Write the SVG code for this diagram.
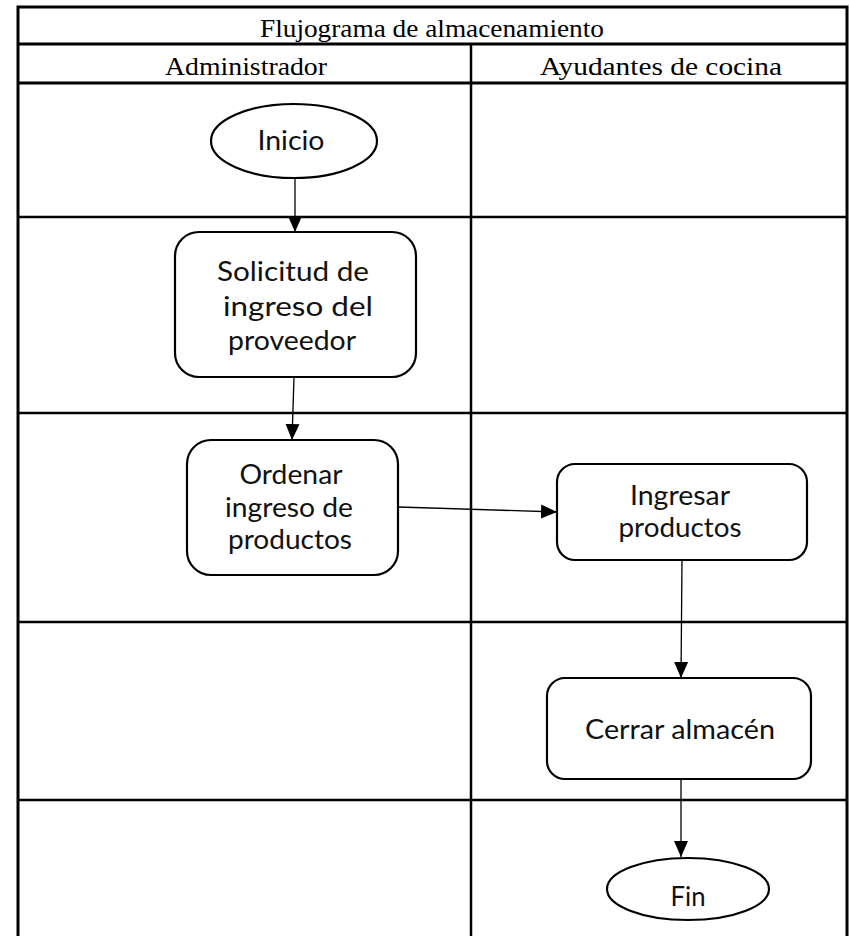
<svg xmlns="http://www.w3.org/2000/svg" width="850" height="936" viewBox="0 0 850 936">
  <style>
    .grid { stroke: #000; stroke-width: 2.5; fill: none; }
    .frame { stroke: #000; stroke-width: 3; fill: none; }
    .hdr { font-family: "Liberation Serif", "Times New Roman", serif; font-size: 25px; fill: #000; text-anchor: middle; }
    .shape { fill: #fff; stroke: #000; stroke-width: 2.2; }
    .lbl { font-family: Lato, "Open Sans", sans-serif; font-size: 27px; fill: #111; text-anchor: middle; }
    .edge { stroke: #000; stroke-width: 1.3; fill: none; marker-end: url(#tip); }
  </style>
  <defs>
    <marker id="tip" markerUnits="userSpaceOnUse" markerWidth="16" markerHeight="16" viewBox="0 0 16 16" refX="16" refY="8" orient="auto">
      <path d="M0,1 L16,8 L0,15 Z" fill="#000"/>
    </marker>
  </defs>

  <rect width="850" height="936" fill="#fff"/>

  <!-- swimlane table -->
  <g id="lanes">
    <path class="frame" d="M18,936 V7 H847 V936"/>
    <line class="frame" x1="18" y1="44" x2="847" y2="44"/>
    <line class="frame" x1="18" y1="83" x2="847" y2="83"/>
    <line class="grid" x1="471" y1="44" x2="471" y2="936"/>
    <line class="grid" x1="18" y1="217" x2="847" y2="217"/>
    <line class="grid" x1="18" y1="413" x2="847" y2="413"/>
    <line class="grid" x1="18" y1="622" x2="847" y2="622"/>
    <line class="grid" x1="18" y1="800" x2="847" y2="800"/>
    <text class="hdr" x="432" y="37" textLength="344" lengthAdjust="spacingAndGlyphs">Flujograma de almacenamiento</text>
    <text class="hdr" x="246" y="75" textLength="162" lengthAdjust="spacingAndGlyphs">Administrador</text>
    <text class="hdr" x="661" y="75" textLength="242" lengthAdjust="spacingAndGlyphs">Ayudantes de cocina</text>
  </g>

  <!-- connectors -->
  <g id="connectors">
    <line class="edge" x1="295" y1="178" x2="295" y2="232"/>
    <line class="edge" x1="294" y1="377" x2="292" y2="440"/>
    <line class="edge" x1="398" y1="507" x2="557" y2="512"/>
    <line class="edge" x1="682" y1="560" x2="681" y2="678"/>
    <line class="edge" x1="681" y1="779" x2="681" y2="857"/>
  </g>

  <g id="inicio">
    <ellipse class="shape" cx="294" cy="141" rx="83" ry="37"/>
    <text class="lbl" x="291" y="150" textLength="67" lengthAdjust="spacingAndGlyphs">Inicio</text>
  </g>

  <g id="solicitud">
    <rect class="shape" x="175" y="232" width="241" height="145" rx="24"/>
    <text class="lbl" x="293" y="281" textLength="152" lengthAdjust="spacingAndGlyphs">Solicitud de</text>
    <text class="lbl" x="298" y="316" textLength="150" lengthAdjust="spacingAndGlyphs">ingreso del</text>
    <text class="lbl" x="292" y="350" textLength="128" lengthAdjust="spacingAndGlyphs">proveedor</text>
  </g>

  <g id="ordenar">
    <rect class="shape" x="187" y="440" width="211" height="135" rx="24"/>
    <text class="lbl" x="291" y="484" textLength="103" lengthAdjust="spacingAndGlyphs">Ordenar</text>
    <text class="lbl" x="289" y="517" textLength="128" lengthAdjust="spacingAndGlyphs">ingreso de</text>
    <text class="lbl" x="290" y="549" textLength="124" lengthAdjust="spacingAndGlyphs">productos</text>
  </g>

  <g id="ingresar">
    <rect class="shape" x="557" y="464" width="250" height="96" rx="18"/>
    <text class="lbl" x="680" y="505" textLength="100" lengthAdjust="spacingAndGlyphs">Ingresar</text>
    <text class="lbl" x="680" y="537" textLength="123" lengthAdjust="spacingAndGlyphs">productos</text>
  </g>

  <g id="cerrar">
    <rect class="shape" x="547" y="678" width="264" height="101" rx="18"/>
    <text class="lbl" x="680" y="739" textLength="190" lengthAdjust="spacingAndGlyphs">Cerrar almacén</text>
  </g>

  <g id="fin">
    <ellipse class="shape" cx="688" cy="889" rx="81" ry="31"/>
    <text class="lbl" x="688" y="906" textLength="35" lengthAdjust="spacingAndGlyphs">Fin</text>
  </g>
</svg>
